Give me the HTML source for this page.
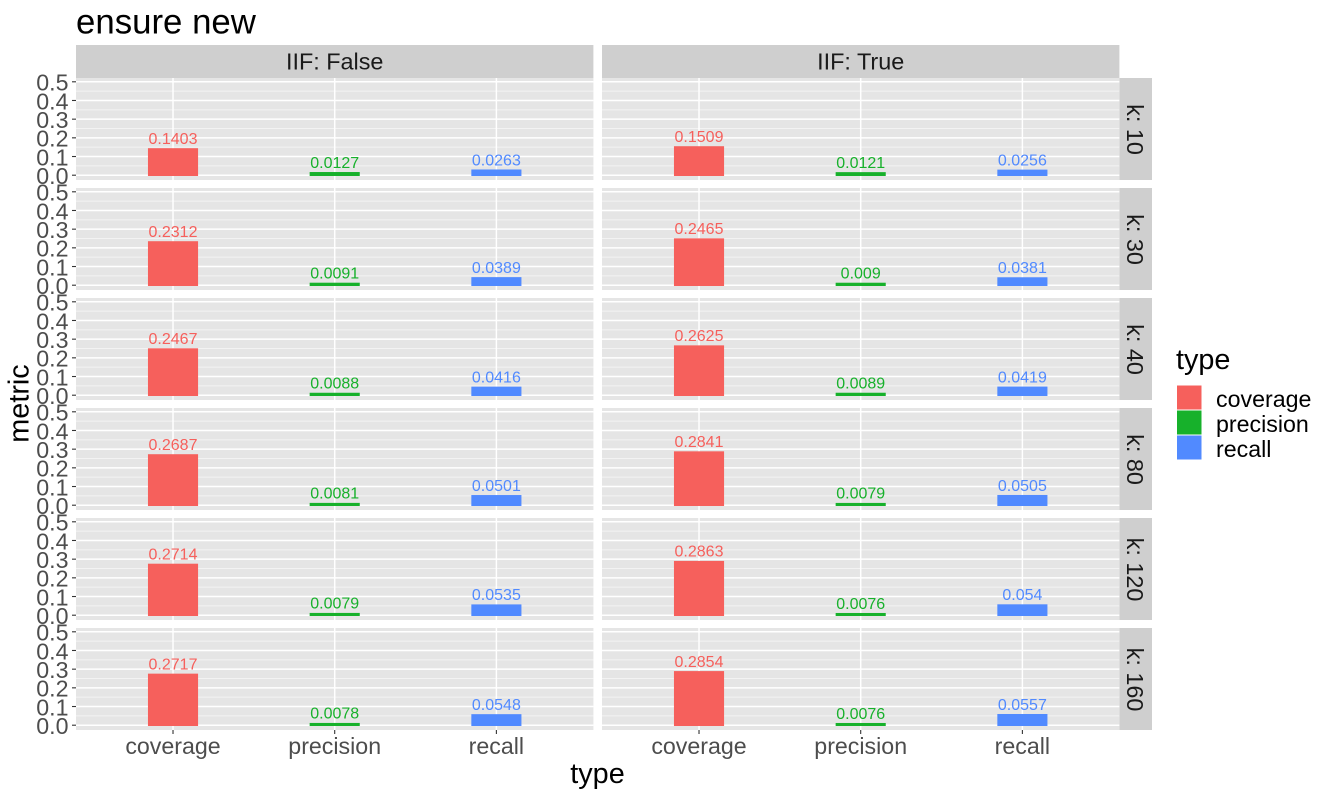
<!DOCTYPE html>
<html lang="en">
<head>
<meta charset="utf-8">
<title>ensure new</title>
<style>
html,body{margin:0;padding:0;background:#fff;width:1328px;height:794px;overflow:hidden}
svg{display:block}
text{font-family:"Liberation Sans",Arial,sans-serif}
</style>
</head>
<body>
<svg id="chart" xmlns="http://www.w3.org/2000/svg" width="1328" height="794" viewBox="0 0 1328 794">
  <rect x="0" y="0" width="1328" height="794" fill="#ffffff"/>
  <text x="76" y="33.7" font-size="34.8" fill="#000000">ensure new</text>
  <text x="597.5" y="783" font-size="28.8" text-anchor="middle" fill="#000000">type</text>
  <text transform="translate(28.5,403.5) rotate(-90)" font-size="28.8" text-anchor="middle" fill="#000000">metric</text>
  <text x="1176" y="369" font-size="28.8" fill="#000000">type</text>
</svg>
<script>
const categories = ["coverage", "precision", "recall"];
const kValues = [10, 30, 40, 80, 120, 160];
const iifValues = ["False", "True"];
const yTicks = ["0.0", "0.1", "0.2", "0.3", "0.4", "0.5"];
const yMinorTicks = [0.05, 0.15, 0.25, 0.35, 0.45];

const coverageFalse = [0.1403, 0.2312, 0.2467, 0.2687, 0.2714, 0.2717];
const precisionFalse = [0.0127, 0.0091, 0.0088, 0.0081, 0.0079, 0.0078];
const recallFalse = [0.0263, 0.0389, 0.0416, 0.0501, 0.0535, 0.0548];
const coverageTrue = [0.1509, 0.2465, 0.2625, 0.2841, 0.2863, 0.2854];
const precisionTrue = [0.0121, 0.009, 0.0089, 0.0079, 0.0076, 0.0076];
const recallTrue = [0.0256, 0.0381, 0.0419, 0.0505, 0.054, 0.0557];

const seriesFalse = [coverageFalse, precisionFalse, recallFalse];
const seriesTrue = [coverageTrue, precisionTrue, recallTrue];

const colors = ["#F6605C", "#17B12B", "#518AFF"];
const svg = document.getElementById("chart");
const NS = "http://www.w3.org/2000/svg";

const panelLefts = [76, 602];
const panelWidth = 517.4;
const panelTop0 = 78;
const panelHeight = 102;
const panelStep = 110;
const zeroOffset = 97.2;
const yUnit = 186.8;

function make(tag, attrs, parent) {
  const el = document.createElementNS(NS, tag);
  for (const key in attrs) el.setAttribute(key, attrs[key]);
  (parent || svg).appendChild(el);
  return el;
}
function xScale(col, catIndex) {
  const step = panelWidth / (categories.length - 1 + 1.2);
  return panelLefts[col] + (0.6 + catIndex) * step;
}
function barWidth() {
  return 0.3 * panelWidth / (categories.length - 1 + 1.2);
}
function yScale(row, value) {
  return panelTop0 + row * panelStep + zeroOffset - value * yUnit;
}

iifValues.forEach(function (iif, col) {
  const strip = make("rect", {x: panelLefts[col], y: 45, width: panelWidth, height: 33, fill: "#CFCFCF"});
  
  
  const stripText = make("text", {x: panelLefts[col] + panelWidth / 2, y: 69.5, "font-size": 23.4, "text-anchor": "middle", fill: "#1A1A1A"});
  
  
  stripText.textContent = "IIF: " + iif;
});

kValues.forEach(function (k, row) {
  const top = panelTop0 + row * panelStep;
  const strip = make("rect", {x: 1119.4, y: top, width: 32.6, height: panelHeight, fill: "#CFCFCF"});
  
  
  const cy = top + panelHeight / 2 + 0.5;
  const stripText = make("text", {transform: "translate(1127," + cy + ") rotate(90)", "font-size": 23.4, "text-anchor": "middle", fill: "#1A1A1A"});
  
  
  stripText.textContent = "k: " + k;

  yTicks.forEach(function (label) {
    const y = yScale(row, parseFloat(label));
    const tick = make("line", {x1: 72, x2: 76, y1: y, y2: y, stroke: "#333333", "stroke-width": 1.1});
    
    
    const tickLabel = make("text", {x: 68.5, y: y + 8.8, "font-size": 23.2, "text-anchor": "end", fill: "#4D4D4D"});
    
    
    tickLabel.textContent = label;
  });

  iifValues.forEach(function (iif, col) {
    const left = panelLefts[col];
    const panel = make("rect", {x: left, y: top, width: panelWidth, height: panelHeight, fill: "#E5E5E5"});
    
    

    yMinorTicks.forEach(function (v) {
      const y = yScale(row, v);
      const grid = make("line", {x1: left, x2: left + panelWidth, y1: y, y2: y, stroke: "#F3F3F3", "stroke-width": 1});
      
      
    });
    yTicks.forEach(function (label) {
      const y = yScale(row, parseFloat(label));
      const grid = make("line", {x1: left, x2: left + panelWidth, y1: y, y2: y, stroke: "#FFFFFF", "stroke-width": 1.5});
      
      
    });
    categories.forEach(function (cat, c) {
      const x = xScale(col, c);
      const grid = make("line", {x1: x, x2: x, y1: top, y2: top + panelHeight, stroke: "#FFFFFF", "stroke-width": 1.5});
      
      
    });

    const series = col === 0 ? seriesFalse : seriesTrue;
    categories.forEach(function (cat, c) {
      const value = series[c][row];
      const x = xScale(col, c);
      const w = barWidth();
      const y1 = yScale(row, value);
      const y0 = yScale(row, 0);
      const bar = make("rect", {x: x - w / 2, y: y1, width: w, height: y0 - y1, fill: colors[c], stroke: colors[c], "stroke-width": 1.6});
      
      
      const valueLabel = make("text", {x: x, y: y1 - 5, "font-size": 16, "text-anchor": "middle", fill: colors[c]});
      
      
      valueLabel.textContent = String(value);
    });
  });
});

iifValues.forEach(function (iif, col) {
  categories.forEach(function (cat, c) {
    const x = xScale(col, c);
    const tick = make("line", {x1: x, x2: x, y1: 730, y2: 734, stroke: "#333333", "stroke-width": 1.1});
    
    
    const label = make("text", {x: x, y: 754, "font-size": 23.2, "text-anchor": "middle", fill: "#4D4D4D"});
    
    
    label.textContent = cat;
  });
});

categories.forEach(function (cat, c) {
  const y = 385 + c * 25;
  const swatch = make("rect", {x: 1177, y: y + 0.5, width: 24.5, height: 24, fill: colors[c]});
  
  
  const label = make("text", {x: 1216, y: y + 22, "font-size": 23.2, fill: "#000000"});
  
  
  label.textContent = cat;
});
</script>
</body>
</html>
